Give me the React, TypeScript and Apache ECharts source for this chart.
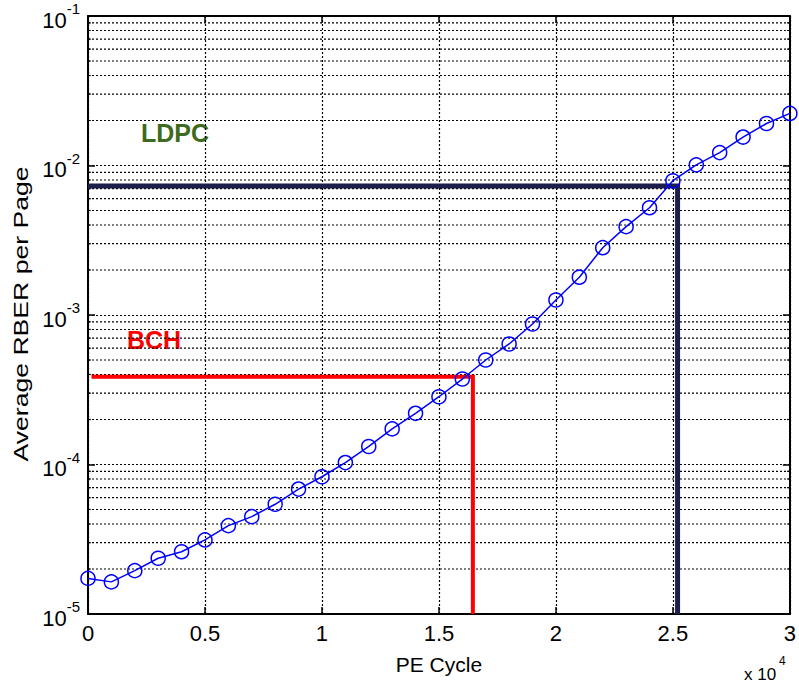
import React, { useEffect, useRef } from "react";
import * as echarts from "echarts";

const peCycles = [
  0, 1000, 2000, 3000, 4000, 5000, 6000, 7000, 8000, 9000, 10000, 11000, 12000,
  13000, 14000, 15000, 16000, 17000, 18000, 19000, 20000, 21000, 22000, 23000,
  24000, 25000, 26000, 27000, 28000, 29000, 30000,
];
const rber = [
  1.73e-5, 1.64e-5, 1.95e-5, 2.36e-5, 2.61e-5, 3.13e-5, 3.9e-5, 4.48e-5,
  5.42e-5, 6.85e-5, 8.28e-5, 1.03e-4, 1.32e-4, 1.73e-4, 2.2e-4, 2.84e-4,
  3.73e-4, 5.0e-4, 6.4e-4, 8.71e-4, 1.26e-3, 1.79e-3, 2.82e-3, 3.9e-3,
  5.22e-3, 7.91e-3, 1.01e-2, 1.22e-2, 1.55e-2, 1.91e-2, 2.23e-2,
];
// threshold guides
const ldpcX = [0, 25200, 25200];
const ldpcY = [7.3e-3, 7.3e-3, 1e-5];
const bchX = [150, 16450, 16450];
const bchY = [3.87e-4, 3.87e-4, 1e-5];

const xTickLabels = ["0", "0.5", "1", "1.5", "2", "2.5", "3"];
const decades = [-5, -4, -3, -2];
const minorMultipliers = [2, 3, 4, 5, 6, 7, 8, 9];

const FONT = "'Liberation Sans', Arial, sans-serif";

export default function App() {
  const ref = useRef<HTMLDivElement>(null);
  useEffect(() => {
    if (!ref.current) return;
    const chart = echarts.init(ref.current, null, { renderer: "svg" });
    const minorValues: number[] = [];
    decades.forEach((e) => {
      minorMultipliers.forEach((m) => minorValues.push(m * Math.pow(10, e)));
    });
    const gridLine = { show: true, lineStyle: { color: "#000", type: [2, 2], width: 1.2 } };
    const axisLine = { show: true, onZero: false, lineStyle: { color: "#000", width: 2 } };
    const tick = { show: true, inside: true, length: 7, lineStyle: { color: "#000", width: 1.5 } };
    const yLabel = {
      fontFamily: FONT,
      color: "#000",
      margin: 8,
      formatter: (v: number) => `{b|10}{s|${Math.round(Math.log10(v))}}`,
      rich: {
        b: { fontSize: 22, fontFamily: FONT, color: "#000", verticalAlign: "bottom", lineHeight: 30 },
        s: { fontSize: 15, fontFamily: FONT, color: "#000", verticalAlign: "top", lineHeight: 16 },
      },
    };
    const minorSeries = minorValues.map((v) => ({
      type: "line",
      data: [
        [0, v],
        [30000, v],
      ],
      symbol: "none",
      silent: true,
      lineStyle: { color: "#000", type: [2, 2], width: 1.2 },
      emphasis: { disabled: true },
      z: 1,
    }));
    const minorTickSeries = minorValues.flatMap((v) => [
      [0, 120],
      [29880, 30000],
    ].map(([a, b]) => ({
      type: "line",
      data: [
        [a, v],
        [b, v],
      ],
      symbol: "none",
      silent: true,
      lineStyle: { color: "#000", width: 1.2 },
      emphasis: { disabled: true },
      z: 2,
    })));
    chart.setOption({
      animation: false,
      backgroundColor: "#fff",
      textStyle: { fontFamily: FONT },
      grid: { left: 88, right: 6, top: 16, bottom: 71, containLabel: false },
      xAxis: [
        {
          type: "value",
          min: 0,
          max: 30000,
          interval: 5000,
          name: "PE Cycle",
          nameLocation: "middle",
          nameGap: 40,
          nameTextStyle: { fontSize: 21, fontFamily: FONT, color: "#000" },
          axisLine,
          axisTick: tick,
          splitLine: gridLine,
          axisLabel: {
            fontSize: 22,
            fontFamily: FONT,
            color: "#000",
            margin: 8,
            formatter: (v: number) => xTickLabels[Math.round(v / 5000)] ?? "",
          },
        },
        {
          type: "value",
          position: "top",
          min: 0,
          max: 30000,
          interval: 5000,
          axisLine,
          axisTick: tick,
          splitLine: { show: false },
          axisLabel: { show: false },
        },
      ],
      yAxis: [
        {
          type: "log",
          logBase: 10,
          min: 1e-5,
          max: 1e-1,
          axisLine,
          axisTick: tick,
          splitLine: gridLine,
          axisLabel: yLabel,
        },
        {
          type: "log",
          logBase: 10,
          min: 1e-5,
          max: 1e-1,
          position: "right",
          axisLine,
          axisTick: tick,
          splitLine: { show: false },
          axisLabel: { show: false },
        },
      ],
      series: [
        ...minorSeries,
        ...minorTickSeries,
        {
          type: "line",
          name: "LDPC",
          data: ldpcX.map((x, i) => [x, ldpcY[i]]),
          symbol: "none",
          lineStyle: { color: "#1c1e4b", width: 5, join: "miter" },
          z: 3,
        },
        {
          type: "line",
          name: "BCH",
          data: bchX.map((x, i) => [x, bchY[i]]),
          symbol: "none",
          lineStyle: { color: "#ff0000", width: 4, join: "miter" },
          z: 3,
        },
        {
          type: "line",
          name: "RBER",
          data: peCycles.map((x, i) => [x, rber[i]]),
          symbol: "circle",
          symbolSize: 14,
          showAllSymbol: true,
          clip: false,
          lineStyle: { color: "#0000ff", width: 1.5 },
          itemStyle: { color: "rgba(0,0,0,0)", borderColor: "#0000ff", borderWidth: 1.5 },
          z: 4,
        },
      ],
      graphic: [
        {
          type: "text",
          x: 21,
          y: 314,
          rotation: Math.PI / 2,
          scaleX: 1.33,
          style: {
            text: "Average RBER per Page",
            fontSize: 20,
            fontFamily: FONT,
            fill: "#000",
            align: "center",
            verticalAlign: "middle",
          },
        },
        {
          type: "text",
          left: 141,
          top: 120,
          style: { text: "LDPC", fontSize: 25, fontWeight: "bold", fontFamily: FONT, fill: "#3d6b1e" },
        },
        {
          type: "text",
          left: 127,
          top: 327,
          style: { text: "BCH", fontSize: 25, fontWeight: "bold", fontFamily: FONT, fill: "#ff0000" },
        },
        {
          type: "text",
          left: 744,
          top: 666,
          style: { text: "x 10", fontSize: 17, fontFamily: FONT, fill: "#000" },
        },
        {
          type: "text",
          left: 779,
          top: 655,
          style: { text: "4", fontSize: 12, fontFamily: FONT, fill: "#000" },
        },
      ],
    });
    return () => chart.dispose();
  }, []);
  return (
    <div
      ref={ref}
      style={{ position: "fixed", left: 0, top: 0, width: 799, height: 685 }}
    />
  );
}
